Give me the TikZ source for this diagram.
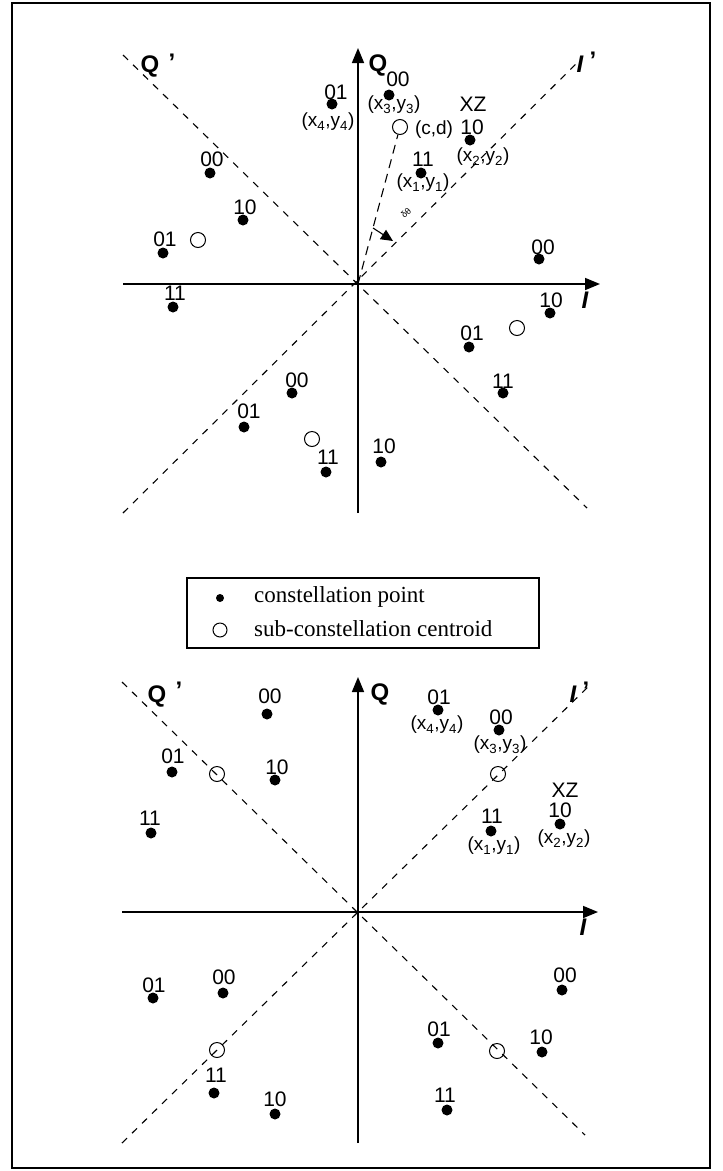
\documentclass[tikz,border=0pt]{standalone}
\usepackage{fontspec}
\setmainfont{Liberation Serif}
\setsansfont{Liberation Sans}
\usetikzlibrary{arrows.meta}
\tikzset{
  dot/.style={circle,fill=black,inner sep=0pt,minimum size=11pt},
  cent/.style={circle,draw,inner sep=0pt,minimum size=15pt,line width=1pt},
  lab/.style={inner sep=0pt,font=\sffamily\fontsize{21}{22}\selectfont},
  sublab/.style={inner sep=0pt,font=\sffamily\fontsize{19}{20}\selectfont},
  axlab/.style={inner sep=0pt,font=\sffamily\bfseries\fontsize{24}{26}\selectfont},
  axlabi/.style={inner sep=0pt,font=\sffamily\bfseries\itshape\fontsize{24}{26}\selectfont},
  axis/.style={line width=1.6pt,-{Triangle[length=15pt,width=12pt]}},
  diag/.style={line width=1.1pt,dash pattern=on 7pt off 7pt},
}
\begin{document}
\begin{tikzpicture}[x=1pt,y=-1pt]
\useasboundingbox (0,0) rectangle (723,1171);
\draw[line width=2.5pt] (12,3) rectangle (710,1168);

% ===== top diagram =====
\coordinate (O1) at (358,284);
\coordinate (L1) at (123,284);
\coordinate (R1) at (600,284);
\coordinate (B1) at (358,513);
\coordinate (T1) at (358,48);
\coordinate (qa1) at (123,55);
\coordinate (qb1) at (587,508);
\coordinate (ia1) at (123,513);
\coordinate (ib1) at (582,58);
\draw[axis] (L1) -- (R1);
\draw[axis] (B1) -- (T1);
\draw[diag] (qa1) -- (qb1);
\draw[diag] (ia1) -- (ib1);
\node[axlab] (tq1) at (150,66) {Q};
\node[axlab] (tq1p) at (172,62) {'};
\node[axlab] (tq) at (378,65) {Q};
\node[axlabi] (ti1p) at (580,64) {I};
\node[axlab] (ti1pp) at (593,60) {'};
\node[axlabi] (ti1) at (585,300) {I};

\foreach \n/\x/\y/\t/\lx/\ly in {
  a/332/104/01/336/92, b/389/95/00/398/79, c/470/140/10/472/127, d/421/173/11/423/159,
  e/210/173/00/212/159, f/243/220/10/245/207, g/163/253/01/165/239, h/173/307/11/175/293,
  i/539/259/00/543/247, j/550/313/10/551/300, k/469/347/01/472/333, l/503/393/11/503/381,
  m/292/393/00/297/380, n/244/427/01/249/411, o/326/472/11/328/457, p/381/462/10/384/446}
{
  \node[dot] (td\n) at (\x,\y) {};
  \node[lab] (tl\n) at (\lx,\ly) {\t};
}
\node[sublab] (tsa) at (328,122) {(x\textsubscript{4},y\textsubscript{4})};
\node[sublab] (tsb) at (394,105) {(x\textsubscript{3},y\textsubscript{3})};
\node[sublab] (tsc) at (483,157) {(x\textsubscript{2},y\textsubscript{2})};
\node[sublab] (tsd) at (423,183) {(x\textsubscript{1},y\textsubscript{1})};
\node[lab] (txz1) at (473,104) {XZ};

\node[cent,fill=white] (tc1) at (198,240) {};
\node[cent,fill=white] (tc2) at (400,127) {};
\node[cent,fill=white] (tc3) at (517,328) {};
\node[cent,fill=white] (tc4) at (312,439) {};
\node[sublab] (tcd) at (434,130) {(c,d)};
\draw[line width=1.1pt,dash pattern=on 9pt off 6pt] (O1) -- (tc2);
\coordinate (rs) at (373,228);
\coordinate (re) at (393,241);
\draw[line width=1.1pt,-{Triangle[length=12pt,width=11pt]}] (rs) -- (re);
\node[inner sep=0pt,rotate=45,font=\sffamily\fontsize{9}{10}\selectfont] (tang) at (406,213) {δθ};

% ===== legend =====
\node[draw,line width=1.5pt,minimum width=352pt,minimum height=70pt,inner sep=0pt] (leg) at (363,613) {};
\node[circle,fill=black,inner sep=0pt,minimum size=8pt] (legdot) at (220,598) {};
\node[circle,draw,line width=1pt,inner sep=0pt,minimum size=14pt] (legcirc) at (220,630) {};
\node[anchor=west,inner sep=0pt,font=\fontsize{23}{25}\selectfont] (legt1) at (254,597) {constellation point};
\node[anchor=west,inner sep=0pt,font=\fontsize{23}{25}\selectfont] (legt2) at (254,629) {sub-constellation centroid};

% ===== bottom diagram =====
\coordinate (O2) at (358,912);
\coordinate (L2) at (122,912);
\coordinate (R2) at (598,912);
\coordinate (B2) at (358,1143);
\coordinate (T2) at (358,677);
\coordinate (qa2) at (122,682);
\coordinate (qb2) at (585,1135);
\coordinate (ia2) at (122,1143);
\coordinate (ib2) at (590,685);
\draw[axis] (L2) -- (R2);
\draw[axis] (B2) -- (T2);
\draw[diag] (qa2) -- (qb2);
\draw[diag] (ia2) -- (ib2);
\node[axlab] (bq2) at (157,696) {Q};
\node[axlab] (bq2p) at (179,690) {'};
\node[axlab] (bq) at (380,694) {Q};
\node[axlabi] (bi2p) at (573,694) {I};
\node[axlab] (bi2pp) at (586,690) {'};
\node[axlabi] (bi2) at (583,927) {I};

\foreach \n/\x/\y/\t/\lx/\ly in {
  a/267/714/00/270/696, b/172/772/01/173/756, c/275/780/10/277/767, d/151/833/11/150/818,
  e/438/710/01/439/697, f/499/730/00/501/717, g/560/824/10/560/810, h/491/831/11/492/816,
  i/153/998/01/154/985, j/223/993/00/224/977, k/214/1093/11/216/1075, l/275/1114/10/275/1099,
  m/438/1043/01/439/1029, n/542/1052/10/541/1037, o/562/990/00/565/975, p/447/1110/11/445/1095}
{
  \node[dot] (bd\n) at (\x,\y) {};
  \node[lab] (bl\n) at (\lx,\ly) {\t};
}
\node[sublab] (bse) at (437,725) {(x\textsubscript{4},y\textsubscript{4})};
\node[sublab] (bsf) at (500,745) {(x\textsubscript{3},y\textsubscript{3})};
\node[sublab] (bsg) at (564,839) {(x\textsubscript{2},y\textsubscript{2})};
\node[sublab] (bsh) at (494,846) {(x\textsubscript{1},y\textsubscript{1})};
\node[lab] (bxz) at (565,790) {XZ};

\node[cent] (bc1) at (217,774) {};
\node[cent] (bc2) at (498,774) {};
\node[cent] (bc3) at (217,1050) {};
\node[cent] (bc4) at (497,1051) {};
\end{tikzpicture}
\end{document}
